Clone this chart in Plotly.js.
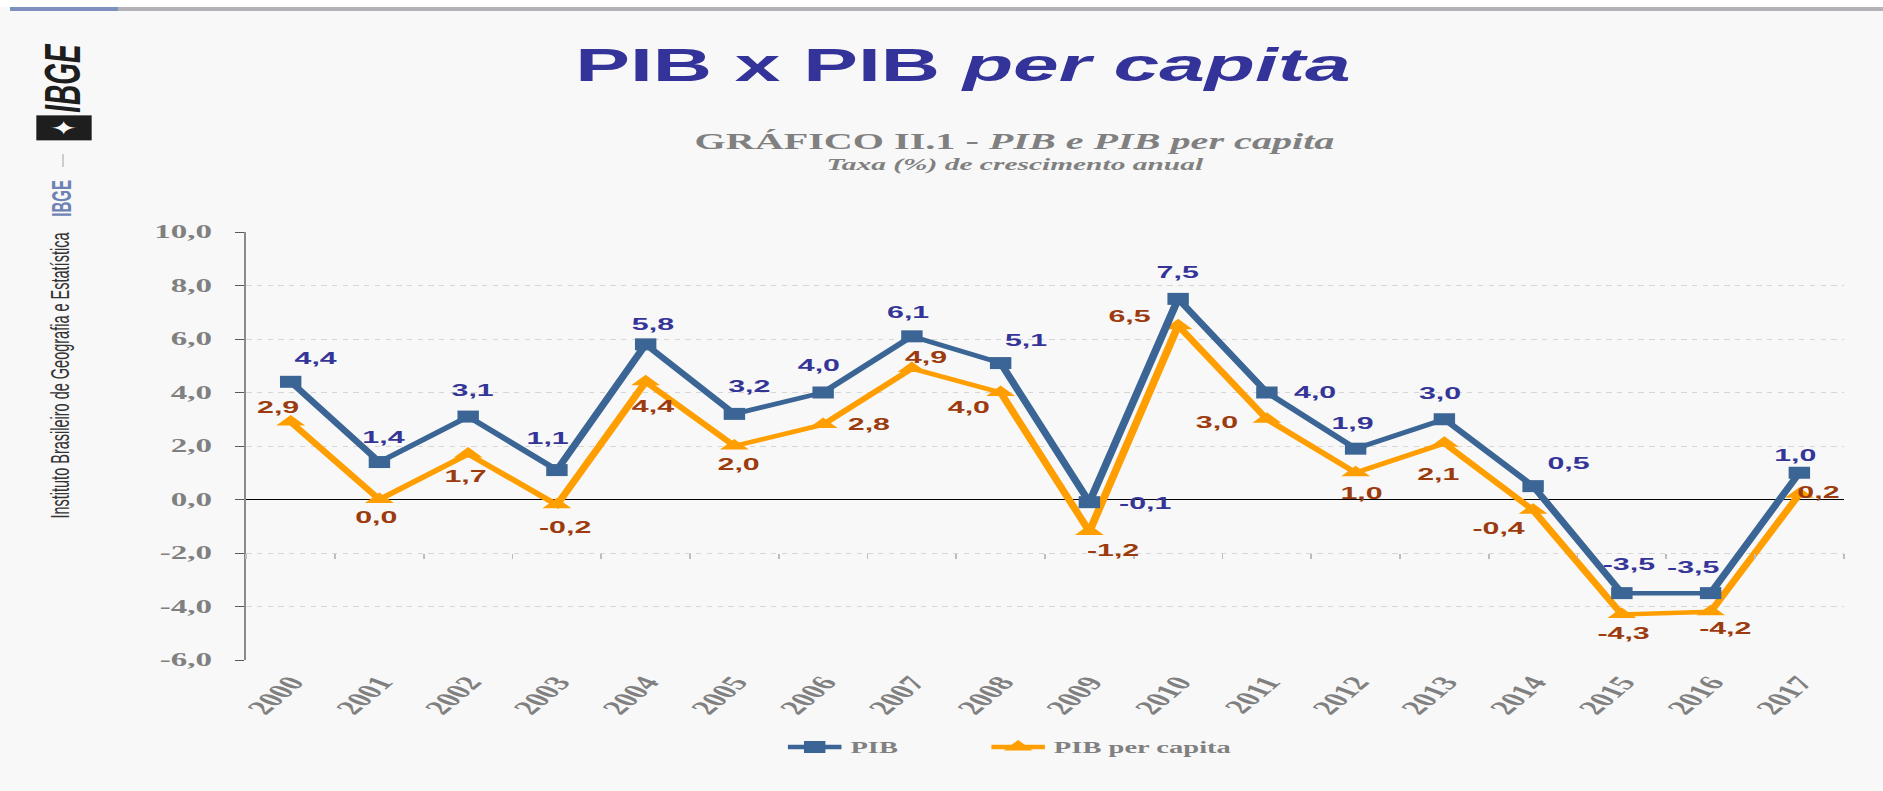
<!DOCTYPE html>
<html>
<head>
<meta charset="utf-8">
<script src="https://cdn.plot.ly/plotly-3.0.1.min.js"></script>
<style>
  html, body { margin: 0; padding: 0; background: #f8f8f8; overflow: hidden; }
  #stage { width: 1055px; height: 791px; transform: scaleX(1.78483); transform-origin: 0 0; }
</style>
</head>
<body>
<div id="stage"></div>
<script>
// ---------------- data ----------------
const years = ['2000','2001','2002','2003','2004','2005','2006','2007','2008',
               '2009','2010','2011','2012','2013','2014','2015','2016','2017'];
const pib = [4.4, 1.4, 3.1, 1.1, 5.8, 3.2, 4.0, 6.1, 5.1,
             -0.1, 7.5, 4.0, 1.9, 3.0, 0.5, -3.5, -3.5, 1.0];
const pibPerCapita = [2.9, 0.0, 1.7, -0.2, 4.4, 2.0, 2.8, 4.9, 4.0,
                      -1.2, 6.5, 3.0, 1.0, 2.1, -0.4, -4.3, -4.2, 0.2];
const yTickValues = [-6, -4, -2, 0, 2, 4, 6, 8, 10];
const yTickLabels = yTickValues.map(v => v.toFixed(1).replace('.', ','));
const seriesNames = ['PIB', 'PIB per capita'];

// label offsets (output pixels, dx right / dy down) - styling only
const pibLabelOffsets = [[26,-23],[5,-25],[5,-26],[-9,-32],[7,-20],[15,-27],[-4,-27],[-4,-24],[25,-23],
                         [55,1],[-1,-26],[48,0],[-2,-25],[-4,-26],[35,-23],[7,-29],[-17,-26],[-3,-17]];
const pcLabelOffsets  = [[-12,-14],[-3,18],[-3,22],[8,23],[7,25],[4,18],[46,0],[15,-11],[-31,15],
                         [23,19],[-49,-9],[-50,3],[7,21],[-6,31],[-34,18],[2,19],[15,17],[19,-2]];

// ---------------- geometry ----------------
const S = 1883 / 1055;           // horizontal stretch of the slide
const IW = 1055, IH = 791;
const L = 138, R = 22, T = 232, B = 131;
const PW = IW - L - R, PH = IH - T - B;
const px = xo => (xo / S - L) / PW;   // output px -> paper x
const py = yo => (IH - B - yo) / PH;  // output px -> paper y
const fmt = v => v.toFixed(1).replace('.', ',');

const blue = '#3A6594', orange = '#FF9E00';
const blueText = '#353598', brownText = '#9C3B0E', grayText = '#808080';
const sans = 'Liberation Sans, Arial, sans-serif';
const serif = 'Liberation Serif, Times New Roman, serif';

const traces = [
  { x: years, y: pibPerCapita, name: '<b>' + seriesNames[1] + '</b>', type: 'scatter', mode: 'lines+markers',
    line: { color: orange, width: 4.5 }, marker: { symbol: 'triangle-up', size: 14, color: orange },
    legendrank: 2, legendwidth: 140, hoverinfo: 'skip' },
  { x: years, y: pib, name: '<b>' + seriesNames[0] + '</b>', type: 'scatter', mode: 'lines+markers',
    line: { color: blue, width: 4.5 }, marker: { symbol: 'square', size: 12, color: blue },
    legendrank: 1, legendwidth: 69, hoverinfo: 'skip' },
  // carrier for the boundary tick axis crossing at -2
  { x: years, y: pib, xaxis: 'x2', yaxis: 'y', mode: 'none', type: 'scatter', showlegend: false, hoverinfo: 'skip' }
];

const annotations = [];
pib.forEach((v, i) => annotations.push({
  x: i, y: v, xref: 'x', yref: 'y', showarrow: false,
  xshift: pibLabelOffsets[i][0] / S, yshift: -pibLabelOffsets[i][1],
  text: '<b>' + fmt(v) + '</b>', font: { family: sans, size: 17, color: blueText }
}));
pibPerCapita.forEach((v, i) => annotations.push({
  x: i, y: v, xref: 'x', yref: 'y', showarrow: false,
  xshift: pcLabelOffsets[i][0] / S, yshift: -pcLabelOffsets[i][1],
  text: '<b>' + fmt(v) + '</b>', font: { family: sans, size: 17, color: brownText }
}));

// subtitle
annotations.push({ xref: 'paper', yref: 'paper', x: px(1014), y: py(141), xanchor: 'center', yanchor: 'middle',
  showarrow: false, text: '<b>GRÁFICO II.1 - <i>PIB e PIB per capita</i></b>',
  font: { family: serif, size: 22.5, color: grayText } });
annotations.push({ xref: 'paper', yref: 'paper', x: px(1015), y: py(164), xanchor: 'center', yanchor: 'middle',
  showarrow: false, text: '<b><i>Taxa (%) de crescimento anual</i></b>',
  font: { family: serif, size: 16.5, color: grayText } });

// sidebar
annotations.push({ xref: 'paper', yref: 'paper', x: px(60), y: py(375), xanchor: 'center', yanchor: 'middle',
  showarrow: false, textangle: -90, text: 'Instituto Brasileiro de Geografia e Estatística',
  font: { family: sans, size: 14.5, color: '#333333' } });
annotations.push({ xref: 'paper', yref: 'paper', x: px(62), y: py(198), xanchor: 'center', yanchor: 'middle',
  showarrow: false, textangle: -90, text: '<b>IBGE</b>',
  font: { family: sans, size: 15, color: '#6E82B4' } });
annotations.push({ xref: 'paper', yref: 'paper', x: px(64), y: py(78), xanchor: 'center', yanchor: 'middle',
  showarrow: false, textangle: -90, text: '<b><i>IBGE</i></b>',
  font: { family: sans, size: 28, color: '#1E1E1E' } });
annotations.push({ xref: 'paper', yref: 'paper', x: px(64), y: py(128), xanchor: 'center', yanchor: 'middle',
  showarrow: false, textangle: -90, text: '✦', bgcolor: '#1E1E1E', borderpad: 4,
  font: { family: 'DejaVu Sans', size: 19, color: '#f8f8f8' } });

const shapes = [
  { type: 'rect', xref: 'paper', yref: 'paper', x0: px(0), x1: px(1883), y0: py(0), y1: py(7),
    fillcolor: '#ffffff', line: { width: 0 }, layer: 'above' },
  { type: 'rect', xref: 'paper', yref: 'paper', x0: px(10), x1: px(1883), y0: py(7), y1: py(11),
    fillcolor: '#B2B2B8', line: { width: 0 }, layer: 'above' },
  { type: 'rect', xref: 'paper', yref: 'paper', x0: px(10), x1: px(118), y0: py(7), y1: py(11),
    fillcolor: '#7F8FBF', line: { width: 0 }, layer: 'above' },
  { type: 'line', xref: 'paper', yref: 'paper', x0: px(63), x1: px(63), y0: py(154), y1: py(167),
    line: { color: '#C8C8C8', width: 1 } }
];

const layout = {
  width: IW, height: IH,
  margin: { l: L, r: R, t: T, b: B, pad: 0 },
  paper_bgcolor: '#f8f8f8', plot_bgcolor: '#f8f8f8',
  showlegend: true,
  title: { text: '<b>PIB x PIB <i>per capita</i></b>', xref: 'container', yref: 'container',
    x: 963 / 1883, xanchor: 'center', y: 1 - 65 / IH, yanchor: 'middle',
    font: { family: sans, size: 46, color: '#333399' } },
  xaxis: { type: 'category', categoryarray: years, range: [-0.5, years.length - 0.5],
    showgrid: false, zeroline: false, showline: false, ticks: '', ticklabelstandoff: 6,
    tickangle: -56, tickfont: { family: serif, size: 20, color: grayText, weight: 'bold' } },
  xaxis2: { type: 'category', overlaying: 'x', anchor: 'free', position: 0.25, side: 'bottom',
    range: [-0.5, years.length - 0.5], tickson: 'boundaries', ticks: 'outside', ticklen: 5,
    tickcolor: '#bdbdbd', tickwidth: 1, showticklabels: false, showgrid: false, zeroline: false, showline: false },
  yaxis: { range: [-6, 10], tickvals: yTickValues, ticktext: yTickLabels,
    showgrid: true, gridcolor: '#d6d6d6', griddash: 'dot', gridwidth: 1,
    zeroline: true, zerolinecolor: '#000000', zerolinewidth: 1.3,
    showline: true, linecolor: '#8a8a8a', linewidth: 1.5,
    ticks: 'outside', ticklen: 5, tickcolor: '#595959', tickwidth: 1, ticklabelstandoff: 9,
    tickfont: { family: serif, size: 18.5, color: grayText, weight: 'bold' } },
  legend: { orientation: 'h', x: px(779), xanchor: 'left', y: py(747), yanchor: 'middle',
    font: { family: serif, size: 16, color: grayText }, entrywidthmode: 'pixels',
    bgcolor: 'rgba(0,0,0,0)', traceorder: 'normal' },
  annotations: annotations,
  shapes: shapes,
  hovermode: false
};

Plotly.newPlot('stage', traces, layout, { displayModeBar: false, staticPlot: true });
</script>
</body>
</html>
